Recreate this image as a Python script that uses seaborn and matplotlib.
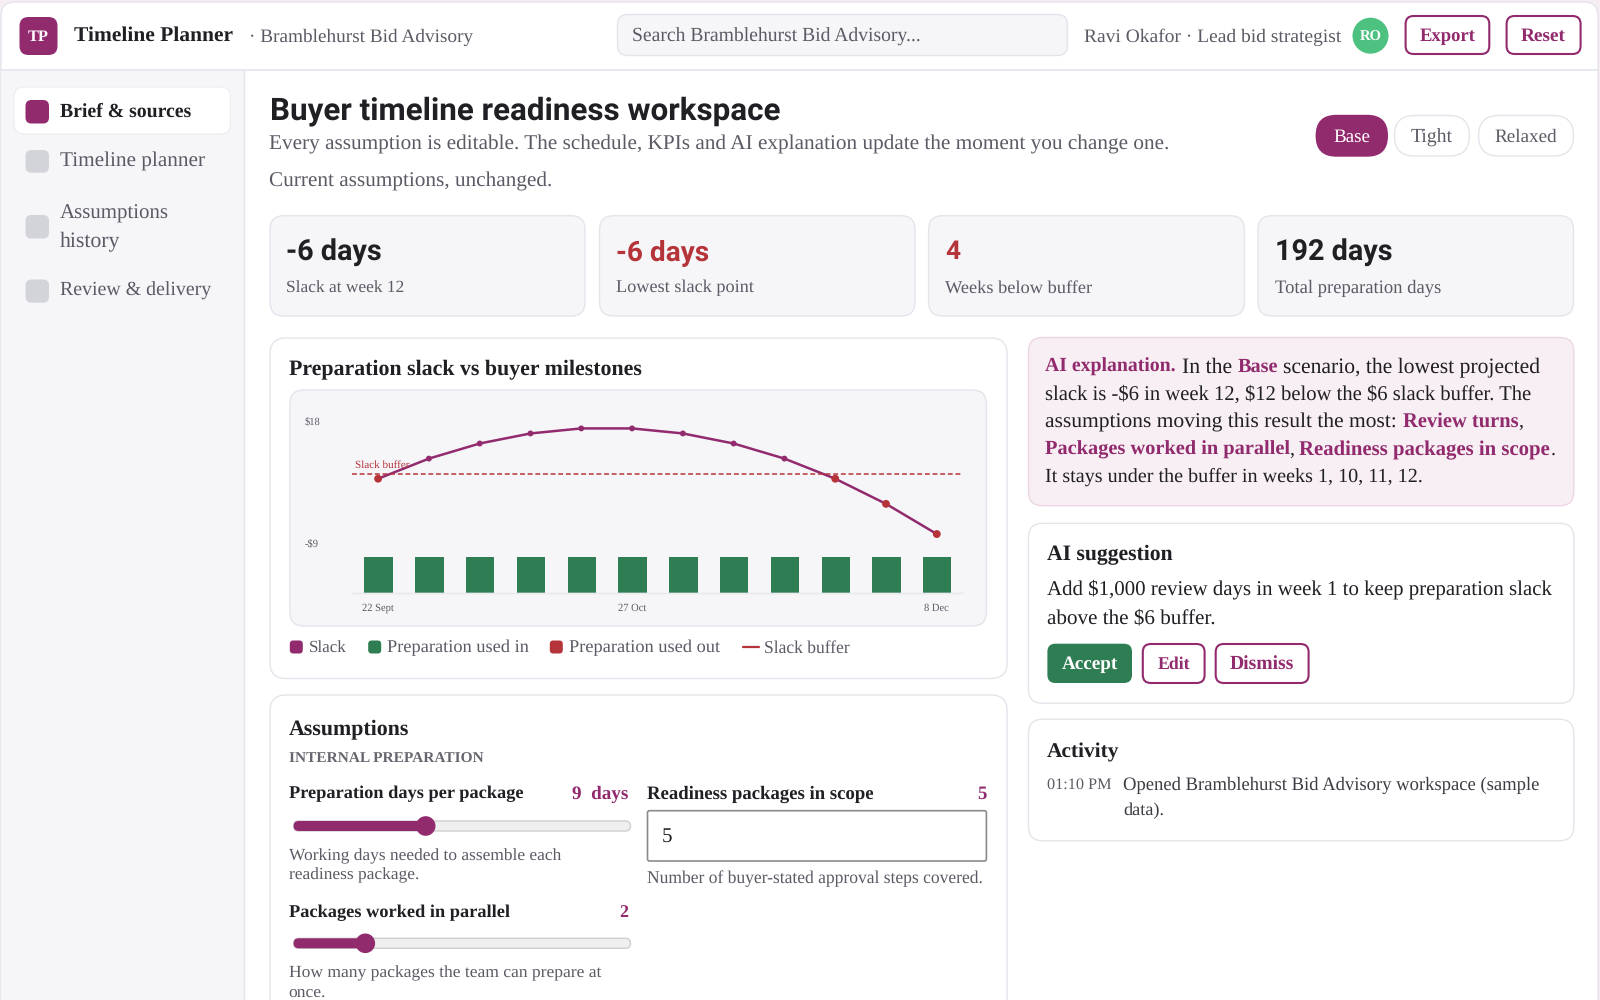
import matplotlib
matplotlib.use("Agg")
import matplotlib.pyplot as plt
import numpy as np
import pandas as pd
import seaborn as sns
from matplotlib.patches import FancyBboxPatch, Circle

#-Chart data
week_dates = ["22 Sept", "29 Sept", "6 Oct", "13 Oct", "20 Oct", "27 Oct",
              "3 Nov", "10 Nov", "17 Nov", "24 Nov", "1 Dec", "8 Dec"]
slack = [5, 9, 12, 14, 15, 15, 14, 12, 9, 5, 0, -6]
prep_used_in = [16, 16, 16, 16, 16, 16, 16, 16, 16, 16, 16, 16]
slack_buffer = 6
x_tick_weeks = [0, 5, 11]
y_tick_values = [18, -9]
y_tick_labels = ["$18", "-$9"]

#-Colours
PURPLE = "#922a6e"
GREEN = "#2e7d53"
RED = "#b5343a"
INK = "#1f1f24"
MUTED = "#5b5b66"
LINE = "#e4e4eb"
SOFT = "#f6f6f9"
SERIF = "Liberation Serif"
SANS = "Roboto"

sns.set_theme(style="white")
plt.rcParams['font.family'] = [SERIF, 'DejaVu Sans']
plt.rcParams['text.hinting'] = 'no_hinting'

fig = plt.figure(figsize=(16, 10), dpi=100, facecolor="#f6eef3")
bg = fig.add_axes([0, 0, 1, 1])
bg.set_xlim(0, 1600)
bg.set_ylim(1000, 0)
bg.axis("off")
renderer = fig.canvas.get_renderer()


def box(x0, y0, x1, y1, r=12, fc="white", ec=LINE, lw=1.0, z=1):
    p = FancyBboxPatch((x0, y0), x1 - x0, y1 - y0, boxstyle=f"round,pad=0,rounding_size={r}",
                       fc=fc, ec=ec, lw=lw, zorder=z)
    bg.add_patch(p)


def put(x, y, s, w=None, px=18, color=INK, weight="normal", ha="left", family=SERIF):
    if ha == "left":
        x = x - 0.8
    t = bg.text(x, y - 0.8, s, fontsize=px * 0.72, color=color, fontweight=weight, ha=ha,
                va="center_baseline", family=family, zorder=5)
    if w:
        for _ in range(3):
            now = t.get_window_extent(renderer).width
            t.set_fontsize(t.get_fontsize() * w / now)
    return t


#-Window
box(1, 2, 1598, 1030, r=14, fc="white", ec=LINE, z=0)
bg.plot([1, 1598], [70, 70], color=LINE, lw=1.2, zorder=1)
bg.fill_between([1, 244], 70.5, 1000, color=SOFT, zorder=0.5, lw=0)
bg.plot([244, 244], [70, 1000], color=LINE, lw=1, zorder=1)

#-Top bar
box(19.5, 17, 57.5, 55, r=9, fc=PURPLE, ec="none")
put(38.5, 36, "TP", w=21, color="white", weight="bold", ha="center")
put(75, 34.5, "Timeline Planner", w=158.7, weight="bold")
put(250, 36, "· Bramblehurst Bid Advisory", w=224.5, color=MUTED)
box(617.5, 14.5, 1067.5, 55.5, r=10, fc=SOFT)
put(632.7, 36, "Search Bramblehurst Bid Advisory...", w=288.3, color=MUTED)
put(1084.7, 36, "Ravi Okafor · Lead bid strategist", w=257, color=MUTED)
bg.add_patch(Circle((1370.5, 35.7), 18, fc="#4dc17f", ec="none", zorder=2))
put(1370.5, 36, "RO", w=22, color="white", weight="bold", ha="center")
for x0, x1, s, w in [(1405.6, 1489.3, "Export", 55.6), (1506.6, 1580.6, "Reset", 45)]:
    box(x0, 16, x1, 54, r=8, ec=PURPLE, lw=1.5)
    put((x0 + x1) / 2, 35.5, s, w=w, color=PURPLE, weight="bold", ha="center")

#-Sidebar
box(14, 87, 230.5, 134, r=10, ec="#efeff3")
nav_icons = [(100, 123.5, PURPLE), (150, 172.7, "#d3d3da"), (215, 238.5, "#d3d3da"), (279.5, 302.7, "#d3d3da")]
for y0, y1, c in nav_icons:
    box(25.5, y0, 49, y1, r=6, fc=c, ec="none")
put(60.7, 110.5, "Brief & sources", w=131.6, weight="bold")
put(60.7, 160.5, "Timeline planner", w=145.3, color=MUTED)
put(60.7, 212, "Assumptions", w=109.3, color=MUTED)
put(60.7, 240, "history", w=60.3, color=MUTED)
put(60.7, 290, "Review & delivery", w=151.3, color=MUTED)

#-Heading
put(270.4, 108.3, "Buyer timeline readiness workspace", w=509, weight="bold", family=SANS)
put(270, 142.5, "Every assumption is editable. The schedule, KPIs and AI explanation update the moment you change one.",
    w=899, color=MUTED)
put(270, 180, "Current assumptions, unchanged.", w=282.6, color=MUTED)
pills = [(1316.3, 1387.3, "Base", 37), (1394.4, 1469.4, "Tight", 42), (1478.6, 1573.5, "Relaxed", 63)]
for i, (x0, x1, s, w) in enumerate(pills):
    box(x0, 115.5, x1, 156, r=20, fc=PURPLE if i == 0 else "white", ec=PURPLE if i == 0 else LINE)
    put((x0 + x1) / 2, 136.5, s, w=w, color="white" if i == 0 else MUTED, ha="center")

#-KPI cards
kpi_values = ["-6 days", "-6 days", "4", "192 days"]
kpi_labels = ["Slack at week 12", "Lowest slack point", "Weeks below buffer", "Total preparation days"]
kpi_colors = [INK, RED, RED, INK]
kpi_boxes = [(270, 585), (599.5, 915), (928.6, 1244.4), (1258, 1573.5)]
kpi_text_x = [287, 616.3, 946, 1275.5]
kpi_val_w = [95.6, 93.4, 15, 117.4]
kpi_lab_w = [118.6, 137.7, 146.3, 166.3]
for i in range(4):
    box(kpi_boxes[i][0], 215.7, kpi_boxes[i][1], 316, r=14, fc=SOFT)
    put(kpi_text_x[i], 250, kpi_values[i], w=kpi_val_w[i], color=kpi_colors[i], weight="bold", family=SANS)
    put(kpi_text_x[i], 287, kpi_labels[i], w=kpi_lab_w[i], color=MUTED)

#-Chart card
box(270, 338, 1007.1, 678.5, r=16)
put(290, 368.2, "Preparation slack vs buyer milestones", w=353, weight="bold")
box(289.8, 390, 986.4, 626, r=14, fc=SOFT)

#-The chart itself
ax = fig.add_axes([352.1 / 1600, 1 - 593.3 / 1000, (961.8 - 352.1) / 1600, (593.3 - 400) / 1000])
ax2 = ax.twinx()
ax.set_zorder(ax2.get_zorder() + 1)
ax.patch.set_visible(False)

df = pd.DataFrame({"week": np.arange(len(slack)), "date": week_dates, "slack": slack, "used_in": prep_used_in})
df["state"] = np.where(df["slack"] < slack_buffer, "below", "above")

sns.barplot(data=df, x="week", y="used_in", ax=ax2, color=GREEN, width=0.5375, saturation=1,
            edgecolor=GREEN, linewidth=0.72)
for bar in ax2.patches:
    bar.set_joinstyle("round")
sns.lineplot(data=df, x="week", y="slack", ax=ax, color=PURPLE, lw=1.8, legend=False)
sns.scatterplot(data=df, x="week", y="slack", hue="state", size="state", ax=ax,
                palette={"above": PURPLE, "below": RED}, sizes={"above": 18, "below": 32},
                linewidth=0, legend=False, zorder=4)
ax.axhline(slack_buffer, color=RED, lw=1.1, ls=(0, (3.2, 1.8)))

ax.set_xlim(-0.512, 11.492)
ax.set_ylim(-17.78, 20.65)
ax2.set_ylim(0, 85.9)
ax2.set_ylabel("")
ax2.set_yticks([])
ax.set_xlabel("")
ax.set_ylabel("")
ax.set_xticks(x_tick_weeks)
ax.set_xticklabels([week_dates[i] for i in x_tick_weeks], fontsize=7.6, color=MUTED)
ax.set_yticks(y_tick_values)
ax.set_yticklabels([])
# labels sit a little inside the scale ends, so they are offset from the tick
for val, lab, off in zip(y_tick_values, y_tick_labels, [-5.5, 4.3]):
    ax.annotate(lab, xy=(0, val), xycoords=ax.get_yaxis_transform(), xytext=(-34.2, off),
                textcoords="offset points", fontsize=7.6, color=MUTED, ha="left", va="center_baseline")
ax.tick_params(axis="x", length=0, pad=7)
ax.tick_params(axis="y", length=0)
for a in (ax, ax2):
    for side in ("top", "right", "left"):
        a.spines[side].set_visible(False)
    a.spines["bottom"].set_color("#e9e9ee")
    a.spines["bottom"].set_linewidth(1)
ax.annotate("Slack buffer", xy=(-0.512, slack_buffer), xytext=(2.2, 2.8), textcoords="offset points",
            fontsize=8.0, color=RED, va="bottom")

#-Legend row
legend_items = ["Slack", "Preparation used in", "Preparation used out", "Slack buffer"]
legend_colors = [PURPLE, GREEN, RED, RED]
legend_x = [289.8, 368.2, 549.8, 742.7]
legend_text_x = [309.2, 387.5, 570.1, 765]
legend_text_w = [37.8, 141.6, 151.5, 85.9]
for i, name in enumerate(legend_items):
    if i < 3:
        box(legend_x[i], 640.5, legend_x[i] + 13, 653.5, r=3.5, fc=legend_colors[i], ec="none")
    else:
        bg.plot([legend_x[i], legend_x[i] + 16], [647, 647], color=legend_colors[i], lw=1.6, zorder=3)
    put(legend_text_x[i], 647, name, w=legend_text_w[i], color=MUTED)

#-Assumptions card
box(270, 695, 1007.1, 1040, r=16)
put(289.5, 727.2, "Assumptions", w=119.9, weight="bold")
put(289.5, 758.5, "INTERNAL PREPARATION", w=194, px=14, color="#66666f", weight="bold")
put(289.5, 793, "Preparation days per package", w=234, weight="bold")
put(628.7, 792.7, "9  days", w=56.2, color=PURPLE, weight="bold", ha="right")
put(647.5, 793, "Readiness packages in scope", w=226.5, weight="bold")
put(986.4, 792.7, "5", w=9.4, color=PURPLE, weight="bold", ha="right")
put(289.5, 855.5, "Working days needed to assemble each", w=272.8, color=MUTED)
put(289.5, 874.7, "readiness package.", w=130.7, color=MUTED)
box(647.5, 810.7, 986.4, 861, r=2, ec="#8b8b8b", lw=1.2)
put(662.2, 835.7, "5", px=21)
put(647.5, 877.5, "Number of buyer-stated approval steps covered.", w=336, color=MUTED)
put(289.5, 912, "Packages worked in parallel", w=220.4, weight="bold")
put(628.7, 911.7, "2", w=9, color=PURPLE, weight="bold", ha="right")
put(289.5, 972.5, "How many packages the team can prepare at", w=311.5, color=MUTED)
put(289.5, 991.7, "once.", w=37.3, color=MUTED)
for y, thumb in [(826, 425.7), (943.3, 365.3)]:
    box(293.6, y - 5, 630.5, y + 5, r=5, fc="#efefef", ec="#cfcfcf")
    box(293.6, y - 5, thumb, y + 5, r=5, fc=PURPLE, ec="none", z=2)
    bg.add_patch(Circle((thumb, y), 9.8, fc=PURPLE, ec="none", zorder=3))

#-AI explanation
box(1028.5, 337.5, 1573.8, 505.7, r=14, fc="#f7eff4", ec="#ecd6e4")
put(1045.5, 365.8, "AI explanation.", w=131, color=PURPLE, weight="bold")
put(1182.8, 365.8, "In the", w=50, color=INK)
put(1238.3, 365.8, "Base", w=40.5, color=PURPLE, weight="bold")
put(1283.8, 365.8, "scenario, the lowest projected", w=257.8, color=INK)
put(1045.5, 393.3, "slack is -$6 in week 12, $12 below the $6 slack buffer. The", w=483.9, color=INK)
put(1045.5, 420.7, "assumptions moving this result the most:", w=352.5, color=INK)
put(1403.6, 420.7, "Review turns", w=115.9, color=PURPLE, weight="bold")
put(1519.5, 420.7, ",", color=INK, px=20)
put(1045.5, 448.7, "Packages worked in parallel", w=244.5, color=PURPLE, weight="bold")
put(1290, 448.7, ",", color=INK, px=20)
put(1300, 448.7, "Readiness packages in scope", w=251, color=PURPLE, weight="bold")
put(1551, 448.7, ".", color=INK, px=20)
put(1045.5, 475.7, "It stays under the buffer in weeks 1, 10, 11, 12.", w=377.8, color=INK)

#-AI suggestion
box(1028.5, 523.3, 1573.8, 703.3, r=14)
put(1047.4, 553.7, "AI suggestion", w=125.6, weight="bold")
put(1047.4, 587.9, "Add $1,000 review days in week 1 to keep preparation slack", w=503.6)
put(1047.4, 616.7, "above the $6 buffer.", w=169)
box(1047.4, 643.7, 1132, 683, r=8, fc=GREEN, ec="none")
put(1089.7, 663.5, "Accept", w=56.6, color="white", weight="bold", ha="center")
box(1142.8, 644, 1204.6, 683, r=8, ec=PURPLE, lw=1.5)
put(1173.7, 663.5, "Edit", w=32.6, color=PURPLE, weight="bold", ha="center")
box(1215.7, 644, 1308.6, 683, r=8, ec=PURPLE, lw=1.5)
put(1262.2, 663.5, "Dismiss", w=64.4, color=PURPLE, weight="bold", ha="center")

#-Activity
box(1028.5, 719.3, 1573.8, 840.7, r=14)
put(1047.4, 751, "Activity", w=72.6, weight="bold")
put(1047.7, 784, "01:10 PM", w=64.8, color=MUTED)
put(1123.8, 784, "Opened Bramblehurst Bid Advisory workspace (sample", w=416.5, color="#3d3d45")
put(1123.8, 810, "data).", w=41, color="#3d3d45")

fig.savefig("out.png", dpi=100, facecolor=fig.get_facecolor())
